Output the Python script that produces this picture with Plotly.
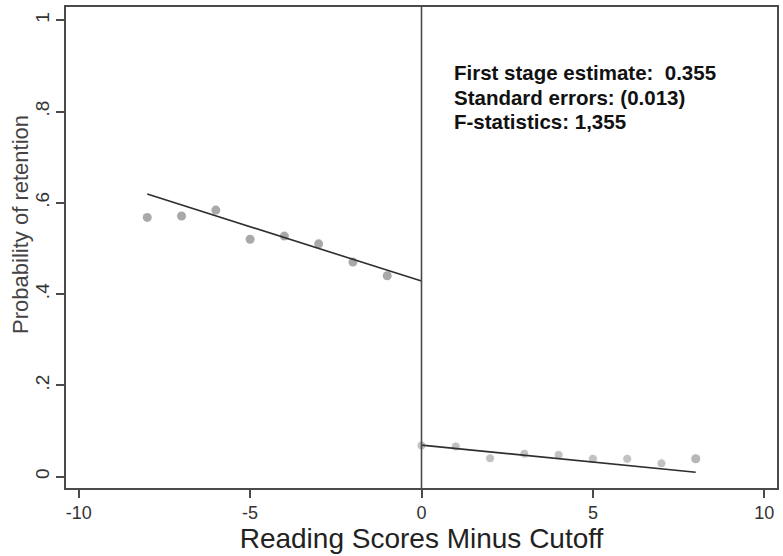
import plotly.graph_objects as go

# Binned means of retention by distance from the reading cutoff
bins_left = [-8, -7, -6, -5, -4, -3, -2, -1]
retention_left = [0.568, 0.571, 0.584, 0.520, 0.527, 0.510, 0.470, 0.440]
bins_right = [0, 1, 2, 3, 4, 5, 6, 7, 8]
retention_right = [0.068, 0.066, 0.040, 0.050, 0.0475, 0.039, 0.039, 0.029, 0.039]

# Linear fits on each side of the cutoff
fit_left_x = [-8, 0]
fit_left_y = [0.619, 0.4285]
fit_right_x = [0, 8]
fit_right_y = [0.069, 0.0096]

x_ticks = [-10, -5, 0, 5, 10]
x_tick_text = ["-10", "-5", "0", "5", "10"]
y_ticks = [0, 0.2, 0.4, 0.6, 0.8, 1]
y_tick_text = ["0", ".2", ".4", ".6", ".8", "1"]

stats_lines = [
    "First stage estimate:  0.355",
    "Standard errors: (0.013)",
    "F-statistics: 1,355",
]
# vertical position (data units) of each statistics line
stats_y = [0.886, 0.831, 0.779]

FONT = "Liberation Sans, Arial, sans-serif"
AXIS_COLOR = "#4a4a4a"
DOT_COLOR = "#a9a9a9"
FIT_COLOR = "#2e2e2e"

fig = go.Figure()

fig.add_trace(go.Scatter(
    x=bins_left, y=retention_left, mode="markers",
    marker=dict(size=9, color=DOT_COLOR), showlegend=False,
))
fig.add_trace(go.Scatter(
    x=bins_right, y=retention_right, mode="markers",
    marker=dict(size=[9] * 8 + [10], color=[DOT_COLOR] * 8 + ["#9a9a9a"]),
    showlegend=False,
))
fig.add_trace(go.Scatter(
    x=fit_left_x, y=fit_left_y, mode="lines",
    line=dict(color=FIT_COLOR, width=1.6), showlegend=False,
))
fig.add_trace(go.Scatter(
    x=fit_right_x, y=fit_right_y, mode="lines",
    line=dict(color=FIT_COLOR, width=1.6), showlegend=False,
))

# Cutoff line
fig.add_shape(
    type="line", xref="x", yref="paper", x0=0, x1=0, y0=0, y1=1,
    line=dict(color=AXIS_COLOR, width=1.6),
)

for line_text, ly in zip(stats_lines, stats_y):
    fig.add_annotation(
        xref="x", yref="y", x=0.88, y=ly,
        xanchor="left", yanchor="middle", align="left", showarrow=False,
        text=f"<b>{line_text}</b>",
        font=dict(family=FONT, size=20.5, color="#111111"),
    )

# Y-axis title, placed as rotated text left of the tick labels
fig.add_annotation(
    xref="paper", yref="paper", x=-0.064, y=0.548,
    xanchor="center", yanchor="middle", showarrow=False, textangle=-90,
    text="Probability of retention",
    font=dict(family=FONT, size=22, color="#444444"),
)

fig.update_layout(
    width=783, height=556,
    margin=dict(l=66, r=4, t=7, b=68),
    paper_bgcolor="white", plot_bgcolor="white",
    font=dict(family=FONT, color="#333333"),
    xaxis=dict(
        range=[-10.37, 10.37],
        tickmode="array", tickvals=x_ticks, ticktext=x_tick_text,
        ticks="outside", ticklen=8, tickwidth=1.5, tickcolor=AXIS_COLOR,
        showline=True, linecolor=AXIS_COLOR, linewidth=1.6, mirror=True,
        showgrid=False, zeroline=False,
        tickfont=dict(family=FONT, size=18, color="#333333"),
        title=dict(text="Reading Scores Minus Cutoff",
                   font=dict(family=FONT, size=28, color="#222222"),
                   standoff=4),
    ),
    yaxis=dict(
        range=[-0.025, 1.029],
        tickmode="array", tickvals=y_ticks, ticktext=y_tick_text,
        tickangle=-90,
        ticks="outside", ticklen=8, tickwidth=1.5, tickcolor=AXIS_COLOR,
        showline=True, linecolor=AXIS_COLOR, linewidth=1.6, mirror=True,
        showgrid=False, zeroline=False,
        tickfont=dict(family=FONT, size=19, color="#333333"),
    ),
)

fig.write_html("out.html")
